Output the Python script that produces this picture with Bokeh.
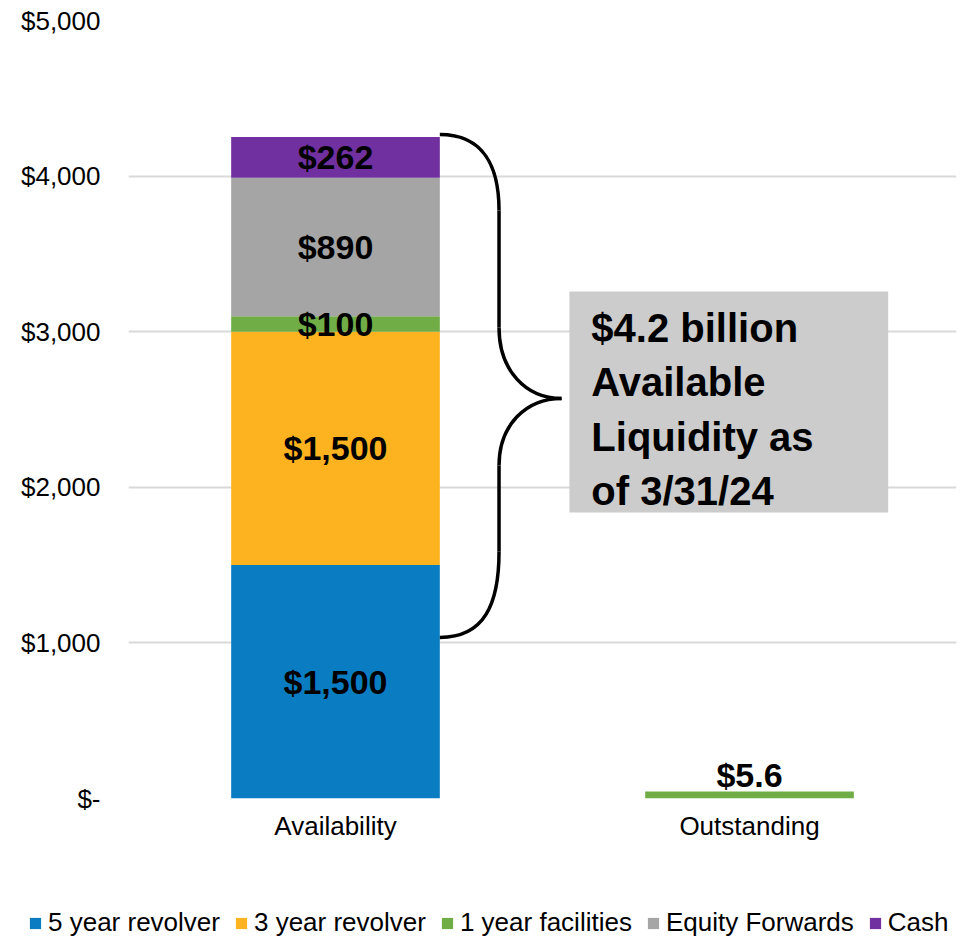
from bokeh.plotting import figure
from bokeh.layouts import column
from bokeh.models import (ColumnDataSource, Range1d, FixedTicker, Legend, LegendItem)
from bokeh.core.properties import value
from bokeh.embed import file_html
from bokeh.resources import INLINE

# ---------------- data ----------------
categories = ["Availability", "Outstanding"]
series = ["5 year revolver", "3 year revolver", "1 year facilities", "Equity Forwards", "Cash"]
five_year = [1500, 0]
three_year = [1500, 0]
one_year = [100, 45]
equity_fwd = [890, 0]
cash = [262, 0]
five_year_labels = ["$1,500", ""]
three_year_labels = ["$1,500", ""]
one_year_labels = ["$100", "$5.6"]
equity_fwd_labels = ["$890", ""]
cash_labels = ["$262", ""]
label_modes = ["center", "above"]
y_ticks = [0, 1000, 2000, 3000, 4000, 5000]
y_tick_labels = ["$-", "$1,000", "$2,000", "$3,000", "$4,000", "$5,000"]
callout_text = "$4.2 billion\nAvailable\nLiquidity as\nof 3/31/24"
brace_bottom_value = 1035

colors = ["#0A7DC2", "#FDB21F", "#70AD47", "#A5A5A5", "#7030A0"]
values = [five_year, three_year, one_year, equity_fwd, cash]
labels = [five_year_labels, three_year_labels, one_year_labels, equity_fwd_labels, cash_labels]

FONT = "Liberation Sans"

xs = [i + 0.5 for i in range(len(categories))]
data = {"x": xs}
for name, vals in zip(series, values):
    data[name] = vals
source = ColumnDataSource(data)

p = figure(width=960, height=890, output_backend="svg", toolbar_location=None,
           x_range=Range1d(0, len(categories)), y_range=Range1d(0, 5000),
           min_border_left=128, min_border_right=4, min_border_top=20,
           min_border_bottom=92)
p.outline_line_color = None
p.background_fill_color = "white"
p.border_fill_color = "white"

bar_w = 0.504
renderers = p.vbar_stack(series, x="x", width=bar_w, color=colors, source=source,
                         line_color=None)

# axes
p.xaxis.ticker = FixedTicker(ticks=xs)
p.xaxis.major_label_overrides = {x: c for x, c in zip(xs, categories)}
p.yaxis.ticker = FixedTicker(ticks=y_ticks)
p.yaxis.major_label_overrides = {t: l for t, l in zip(y_ticks, y_tick_labels)}
for ax in (p.xaxis, p.yaxis):
    ax.axis_line_color = None
    ax.major_tick_line_color = None
    ax.minor_tick_line_color = None
    ax.major_tick_in = 0
    ax.major_tick_out = 0
    ax.major_label_text_font = FONT
    ax.major_label_text_font_size = "26px"
    ax.major_label_text_color = "#000000"
p.yaxis.major_label_standoff = 28
p.xaxis.major_label_standoff = 12
p.xgrid.grid_line_color = None
p.ygrid.grid_line_color = "#d9d9d9"
p.ygrid.grid_line_width = 2

# bar labels
cx, cy, ct = [], [], []
ax_, ay_, at_ = [], [], []
for i, x in enumerate(xs):
    bottom = 0
    for vals, labs in zip(values, labels):
        v = vals[i]
        if labs[i]:
            if label_modes[i] == "center":
                cx.append(x); cy.append(bottom + v / 2); ct.append(labs[i])
            else:
                ax_.append(x); ay_.append(bottom + v); at_.append(labs[i])
        bottom += v
p.text(x=cx, y=cy, text=ct, text_align="center", text_baseline="middle",
       text_font=value(FONT), text_font_style="bold", text_font_size="34px",
       text_color="#000000")
p.text(x=ax_, y=ay_, text=at_, text_align="center", text_baseline="bottom",
       y_offset=3, text_font=value(FONT), text_font_style="bold",
       text_font_size="34px", text_color="#000000")

# brace
total = sum(v[0] for v in values)
bx0 = xs[0] + bar_w / 2
bxm = 0.895
btip = 1.046
top = total + 15
bot = brace_bottom_value
mid = 2571
p.bezier(x0=[bx0, bxm, btip, bxm], y0=[top, 3027, mid, 1587],
         x1=[bxm, btip, bxm, bx0], y1=[3779, mid, 2140, bot],
         cx0=[0.86, bxm, 0.96, bxm], cy0=[top, 2750, mid, 1250],
         cx1=[bxm, 0.96, bxm, 0.86], cy1=[4050, mid, 2400, bot],
         line_color="black", line_width=3.5)
p.segment(x0=[bxm, bxm], y0=[3779, 2140], x1=[bxm, bxm], y1=[3027, 1587],
          line_color="black", line_width=3.5)

# callout box
p.quad(left=[1.065], right=[1.835], top=[3258], bottom=[1838],
       fill_color="#cccccc", line_color=None)
p.text(x=[1.118], y=[3168], text=[callout_text], text_align="left",
       text_baseline="top", text_line_height=1.24, text_font=value(FONT),
       text_font_style="bold", text_font_size="40px", text_color="#000000")

# legend strip (legend proxies sit outside the visible range)
lg = figure(width=960, height=48, output_backend="svg", toolbar_location=None,
            x_range=Range1d(0, 1), y_range=Range1d(0, 1), min_border=0,
            x_axis_location=None, y_axis_location=None)
lg.grid.visible = False
lg.outline_line_color = None
lg.border_fill_color = "white"
lg_renderers = [lg.vbar(x=[-10], top=[-10], width=0.1, color=c, line_color=None)
                for c in colors]
legend = Legend(items=[LegendItem(label=n, renderers=[r]) for n, r in zip(series, lg_renderers)],
                orientation="horizontal", location=(28, 0),
                label_text_font=FONT, label_text_font_size="26px",
                label_text_color="#000000",
                glyph_width=14, glyph_height=14, label_standoff=6, spacing=14,
                padding=0, margin=0, border_line_color=None,
                background_fill_alpha=0)
lg.add_layout(legend, "center")

p.frame_align = False
lg.frame_align = False

layout = column(p, lg, spacing=0)
open("out.html", "w").write(file_html(layout, INLINE))
